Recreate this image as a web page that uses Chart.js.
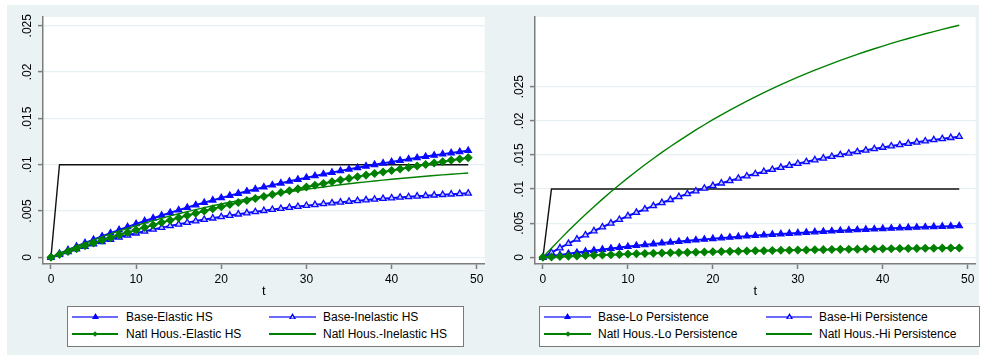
<!DOCTYPE html>
<html><head><meta charset="utf-8">
<script src="https://cdn.jsdelivr.net/npm/chart.js@4.4.0/dist/chart.umd.min.js"></script>
<style>
body{margin:0;background:#fff;width:981px;height:356px;position:relative;overflow:hidden;font-family:"Liberation Sans",Arial,sans-serif}
#bg{position:absolute;left:7px;top:5px;width:972px;height:350px;background:#eaf2f3}
canvas{position:absolute}
.box{position:absolute;background:#fff;border:1px solid #7a7a7a;box-sizing:border-box}
.ln{position:absolute;height:2px}
.tx{position:absolute;font-size:12px;line-height:16px;color:#000;white-space:nowrap}
.tri{position:absolute;width:7px;height:6px;clip-path:polygon(50% 0,100% 100%,0 100%)}
.dia{position:absolute;width:4px;height:4px;transform:rotate(45deg)}
</style>
</head><body>
<div id="bg"></div>
<canvas id="cL" width="483" height="300" style="left:7px;top:5px"></canvas>
<canvas id="cR" width="491" height="300" style="left:490px;top:5px"></canvas>

<div class="box" style="left:67px;top:306px;width:397px;height:41px"></div>
<div class="box" style="left:539px;top:306px;width:441px;height:41px"></div>

<div class="ln" style="left:72px;top:316px;width:46px;background:#6a6aff"></div>
<div class="tri" style="left:92px;top:313px;background:#0000ff"></div>
<div class="tx" style="left:126px;top:308.5px">Base-Elastic HS</div>
<div class="ln" style="left:269px;top:316px;width:47px;background:#6a6aff"></div>
<div class="tri" style="left:289px;top:313px;background:#0000ff"></div>
<div class="tri" style="left:291px;top:315.5px;width:3px;height:3px;background:#d0d0ff"></div>
<div class="tx" style="left:323px;top:308.5px">Base-Inelastic HS</div>
<div class="ln" style="left:72px;top:333px;width:46px;height:1.5px;background:#008000"></div>
<div class="dia" style="left:93px;top:331.5px;background:#008000"></div>
<div class="tx" style="left:126px;top:325.5px">Natl Hous.-Elastic HS</div>
<div class="ln" style="left:269px;top:333px;width:47px;height:1.5px;background:#008000"></div>
<div class="tx" style="left:323px;top:325.5px">Natl Hous.-Inelastic HS</div>

<div class="ln" style="left:544px;top:316px;width:47px;background:#6a6aff"></div>
<div class="tri" style="left:564px;top:313px;background:#0000ff"></div>
<div class="tx" style="left:598px;top:308.5px">Base-Lo Persistence</div>
<div class="ln" style="left:766px;top:316px;width:46px;background:#6a6aff"></div>
<div class="tri" style="left:786px;top:313px;background:#0000ff"></div>
<div class="tri" style="left:788px;top:315.5px;width:3px;height:3px;background:#d0d0ff"></div>
<div class="tx" style="left:819px;top:308.5px">Base-Hi Persistence</div>
<div class="ln" style="left:544px;top:333px;width:47px;height:1.5px;background:#008000"></div>
<div class="dia" style="left:565.5px;top:331.5px;background:#008000"></div>
<div class="tx" style="left:598px;top:325.5px">Natl Hous.-Lo Persistence</div>
<div class="ln" style="left:766px;top:333px;width:46px;height:1.5px;background:#008000"></div>
<div class="tx" style="left:819px;top:325.5px">Natl Hous.-Hi Persistence</div>

<script>
// ---- data ----
const tVals = [0,1,2,3,4,5,6,7,8,9,10,11,12,13,14,15,16,17,18,19,20,21,22,23,24,25,26,27,28,29,30,31,32,33,34,35,36,37,38,39,40,41,42,43,44,45,46,47,48,49];
const xTickVals = [0,10,20,30,40,50];
const yTickVals = [0,0.005,0.01,0.015,0.02,0.025];

const shock = [0,0.01,0.01,0.01,0.01,0.01,0.01,0.01,0.01,0.01,0.01,0.01,0.01,0.01,0.01,0.01,0.01,0.01,0.01,0.01,0.01,0.01,0.01,0.01,0.01,0.01,0.01,0.01,0.01,0.01,0.01,0.01,0.01,0.01,0.01,0.01,0.01,0.01,0.01,0.01,0.01,0.01,0.01,0.01,0.01,0.01,0.01,0.01,0.01,0.01];

// left panel
const baseElastic = [0,.000402,.000795,.001178,.001551,.001915,.002270,.002617,.002955,.003284,.003606,.003919,.004225,.004523,.004814,.005097,.005374,.005644,.005907,.006163,.006414,.006658,.006896,.007128,.007354,.007575,.007791,.008001,.008206,.008406,.008600,.008791,.008976,.009157,.009333,.009505,.009673,.009837,.009996,.010152,.010304,.010452,.010596,.010737,.010874,.011008,.011139,.011266,.011391,.011512];
const baseInelastic = [0,.000308,.000603,.000888,.001162,.001426,.001680,.001924,.002159,.002385,.002602,.002812,.003013,.003207,.003393,.003573,.003745,.003912,.004072,.004225,.004373,.004516,.004653,.004785,.004912,.005034,.005152,.005265,.005374,.005479,.005579,.005676,.005770,.005859,.005946,.006029,.006109,.006186,.006260,.006331,.006400,.006466,.006530,.006591,.006650,.006706,.006761,.006813,.006864,.006912];
const natlElastic = [0,.000319,.000632,.000940,.001243,.001542,.001835,.002123,.002407,.002686,.002960,.003230,.003495,.003756,.004012,.004265,.004513,.004757,.004997,.005233,.005465,.005694,.005918,.006139,.006356,.006570,.006780,.006987,.007190,.007390,.007586,.007779,.007969,.008156,.008340,.008521,.008699,.008874,.009046,.009215,.009381,.009545,.009706,.009864,.010020,.010173,.010323,.010471,.010617,.010760];
const natlInelastic = [0,.000405,.000794,.001169,.001530,.001877,.002211,.002533,.002842,.003140,.003426,.003702,.003967,.004222,.004467,.004704,.004931,.005150,.005360,.005563,.005758,.005946,.006126,.006300,.006467,.006628,.006783,.006932,.007075,.007213,.007345,.007473,.007596,.007714,.007828,.007938,.008043,.008144,.008242,.008336,.008426,.008513,.008597,.008677,.008755,.008829,.008901,.008970,.009036,.009100];

// right panel
const baseLo = [0,.000181,.000356,.000525,.000690,.000849,.001004,.001153,.001298,.001439,.001575,.001708,.001836,.001960,.002080,.002197,.002310,.002419,.002525,.002628,.002728,.002825,.002918,.003009,.003097,.003183,.003265,.003345,.003423,.003498,.003571,.003642,.003711,.003777,.003841,.003904,.003964,.004023,.004080,.004135,.004188,.004240,.004290,.004339,.004386,.004431,.004476,.004519,.004560,.004601];
const baseHi = [0,.000694,.001367,.002019,.002651,.003263,.003857,.004433,.004990,.005531,.006055,.006563,.007055,.007532,.007994,.008442,.008877,.009298,.009706,.010101,.010485,.010856,.011216,.011565,.011903,.012231,.012549,.012857,.013156,.013445,.013725,.013997,.014261,.014516,.014763,.015003,.015236,.015461,.015680,.015891,.016096,.016295,.016488,.016675,.016856,.017031,.017201,.017366,.017526,.017681];
const natlLo = [0,.000054,.000106,.000157,.000206,.000253,.000299,.000344,.000387,.000429,.000470,.000509,.000547,.000584,.000620,.000655,.000689,.000721,.000753,.000784,.000813,.000842,.000870,.000897,.000923,.000949,.000973,.000997,.001020,.001043,.001065,.001086,.001106,.001126,.001145,.001164,.001182,.001199,.001216,.001233,.001249,.001264,.001279,.001293,.001308,.001321,.001334,.001347,.001360,.001372];
const natlHi = [0,.001335,.002628,.003882,.005097,.006275,.007417,.008523,.009596,.010635,.011643,.012619,.013565,.014483,.015372,.016233,.017069,.017878,.018663,.019423,.020160,.020875,.021567,.022238,.022889,.023519,.024130,.024722,.025297,.025853,.026392,.026915,.027421,.027912,.028388,.028850,.029296,.029730,.030150,.030557,.030951,.031334,.031704,.032064,.032412,.032749,.033076,.033393,.033701,.033998];

// ---- chart ----
const BLUE = '#0a0aff', GREEN = '#008000', AXIS = '#7d7d7d';
const pts = arr => arr.map((v,i)=>({x:tVals[i], y:v}));
const fmt = v => v === 0 ? '0' : String(+Number(v).toFixed(3)).replace(/^0\./,'.');

const plotBg = {id:'plotBg', beforeDraw(c){const {ctx,chartArea:a}=c; ctx.save(); ctx.fillStyle='#fff'; ctx.fillRect(a.left,a.top,a.right-a.left,a.bottom-a.top); ctx.restore();}};

function ds(label, arr, color, width, style, fill, order){
  return {label, data: pts(arr), borderColor: color, borderWidth: width, tension: 0,
    pointStyle: style || 'circle', pointRadius: style ? 3.6 : 0, pointBorderWidth: 1.3,
    pointBackgroundColor: fill || color, pointBorderColor: color, order};
}

function makeChart(id, datasets, yMin, yMax, yWidth){
  new Chart(document.getElementById(id), {
    type: 'line',
    data: {datasets},
    plugins: [plotBg],
    options: {
      responsive: false, devicePixelRatio: 1, animation: false,
      layout: {padding: {top: 12, right: 3, left: 0, bottom: 0}},
      plugins: {legend: {display: false}, tooltip: {enabled: false}},
      scales: {
        x: {type: 'linear', min: -0.935, max: 50.935,
          afterBuildTicks: s => { s.ticks = xTickVals.map(v => ({value: v})); },
          afterFit: s => { s.height = 41; },
          ticks: {padding: 3, color: '#000', font: {size: 12}, maxRotation: 0, autoSkip: false, callback: v => String(v)},
          grid: {drawOnChartArea: false, drawTicks: true, tickLength: 5, tickColor: AXIS, tickWidth: 1.5},
          border: {display: true, color: AXIS, width: 1.5},
          title: {display: true, text: 't', color: '#000', font: {size: 13}, padding: {top: 0, bottom: 6}}
        },
        y: {type: 'linear', min: yMin, max: yMax,
          afterBuildTicks: s => { s.ticks = yTickVals.map(v => ({value: v})); },
          afterFit: s => { s.width = yWidth; },
          ticks: {minRotation: 90, maxRotation: 90, crossAlign: 'center', padding: -1.7, color: '#000', font: {size: 12}, autoSkip: false, callback: fmt},
          grid: {color: '#e6eff1', lineWidth: 1.2, drawTicks: true, tickLength: 5, tickColor: AXIS, tickWidth: 1.5},
          border: {display: true, color: AXIS, width: 1.5}
        }
      }
    }
  });
}

Chart.defaults.font.family = '"Liberation Sans", Arial, sans-serif';

makeChart('cL', [
  ds('Base-Elastic HS', baseElastic, BLUE, 2, 'triangle', BLUE, 4),
  ds('Base-Inelastic HS', baseInelastic, BLUE, 2, 'triangle', '#c8c8ff', 3),
  ds('Natl Hous.-Elastic HS', natlElastic, GREEN, 2, 'rectRot', GREEN, 2),
  ds('Natl Hous.-Inelastic HS', natlInelastic, GREEN, 1.4, null, null, 1),
  ds('Shock', shock, '#111111', 1.4, null, null, 10)
], -0.00072, 0.02594, 36);

makeChart('cR', [
  ds('Base-Lo Persistence', baseLo, BLUE, 2, 'triangle', BLUE, 4),
  ds('Base-Hi Persistence', baseHi, BLUE, 2, 'triangle', '#c8c8ff', 3),
  ds('Natl Hous.-Lo Persistence', natlLo, GREEN, 2, 'rectRot', GREEN, 2),
  ds('Natl Hous.-Hi Persistence', natlHi, GREEN, 1.4, null, null, 1),
  ds('Shock', shock, '#111111', 1.4, null, null, 10)
], -0.00098, 0.03521, 45);
</script>
</body></html>
